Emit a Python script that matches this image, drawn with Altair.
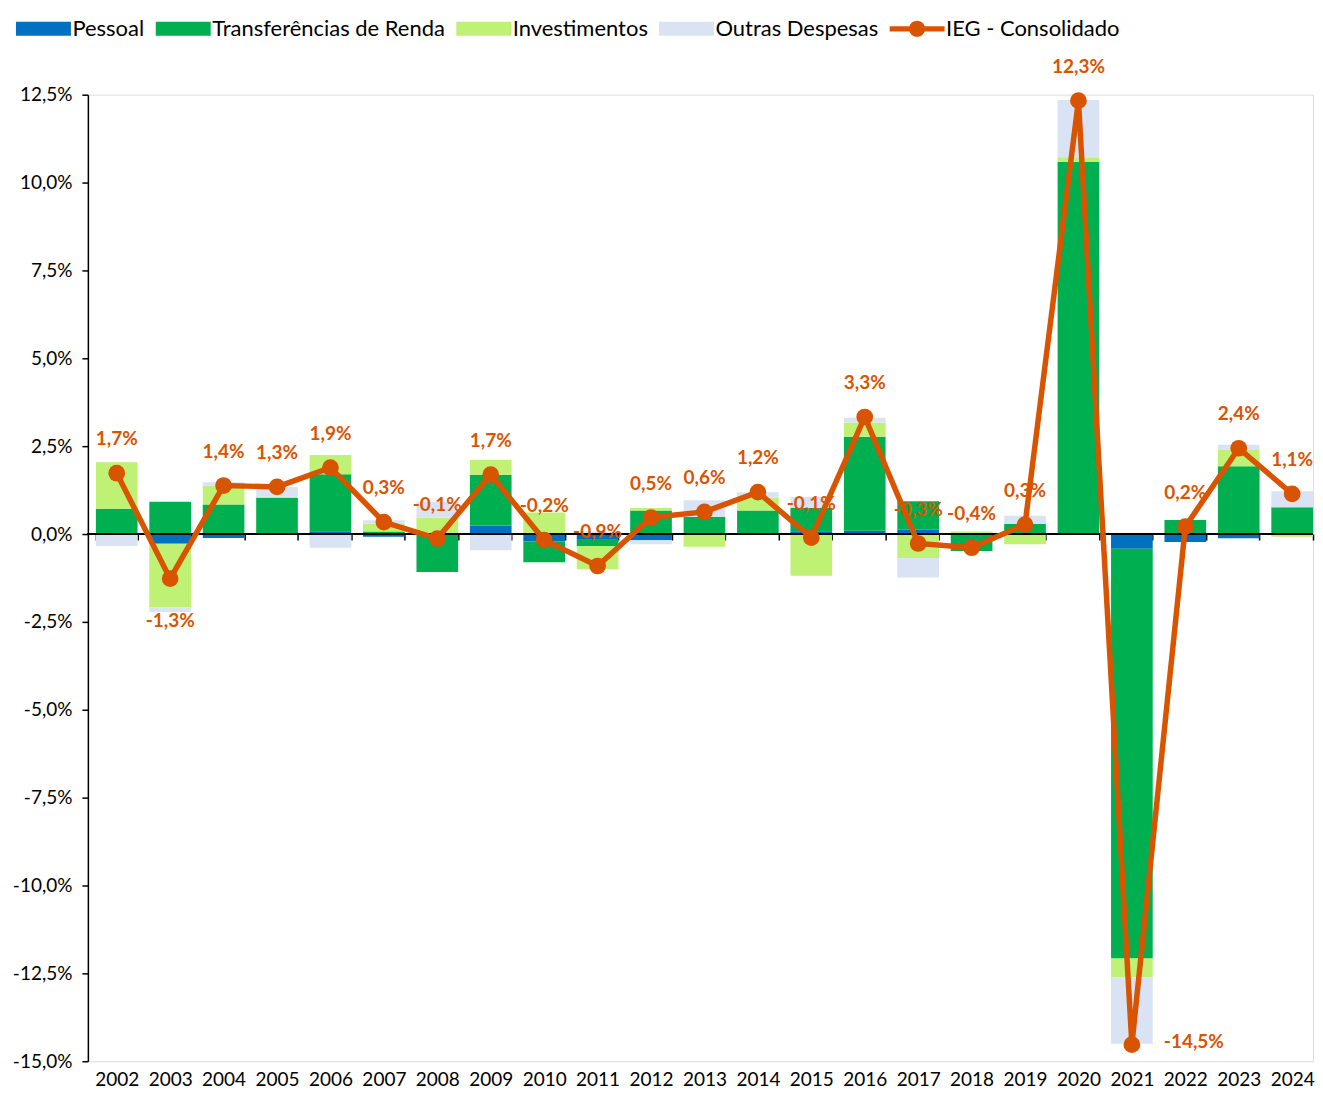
import altair as alt
import pandas as pd

anos = [str(a) for a in range(2002, 2025)]
pessoal = [0.00, -0.28, -0.11, 0.00, 0.08, -0.08, 0.00, 0.24, -0.21, -0.14, -0.18, 0.00,
           0.00, 0.08, 0.09, 0.12, 0.00, 0.00, 0.00, -0.42, -0.23, -0.12, 0.00]
transf = [0.72, 0.92, 0.84, 1.03, 1.62, 0.07, -1.08, 1.44, -0.59, -0.20, 0.67, 0.49,
          0.67, 0.66, 2.68, 0.81, -0.48, 0.29, 10.59, -11.66, 0.40, 1.93, 0.76]
invest = [1.32, -1.80, 0.53, 0.03, 0.55, 0.23, 0.46, 0.43, 0.61, -0.66, 0.07, -0.36,
          0.37, -1.19, 0.40, -0.68, 0.07, -0.29, 0.13, -0.53, 0.00, 0.46, -0.08]
outras = [-0.34, -0.14, 0.10, 0.28, -0.39, 0.09, 0.46, -0.46, 0.00, 0.07, -0.11, 0.47,
          0.15, 0.31, 0.14, -0.56, 0.00, 0.23, 1.63, -1.89, 0.00, 0.15, 0.46]
ieg = [1.73, -1.27, 1.38, 1.34, 1.89, 0.34, -0.13, 1.69, -0.17, -0.91, 0.47, 0.63,
       1.19, -0.10, 3.33, -0.27, -0.39, 0.27, 12.33, -14.53, 0.21, 2.44, 1.14]

series = ["Pessoal", "Transferências de Renda", "Investimentos", "Outras Despesas", "IEG - Consolidado"]
cores = ["#0070C0", "#00B050", "#BEF174", "#DAE3F3", "#D95400"]
y_ticks = [-15, -12.5, -10, -7.5, -5, -2.5, 0, 2.5, 5, 7.5, 10, 12.5]

rows = []
for i, a in enumerate(anos):
    for k, vals in enumerate([pessoal, transf, invest, outras]):
        rows.append({"ano": a, "serie": series[k], "ordem": k, "valor": vals[i]})
bars_df = pd.DataFrame(rows)
line_df = pd.DataFrame({
    "ano": anos,
    "serie": series[4],
    "valor": ieg,
    "rotulo": [f"{v:.1f}".replace(".", ",") + "%" for v in ieg],
})

W, H = 1227, 968
YMIN, YMAX = -15, 12.5
zero_from_bottom = H * (0 - YMIN) / (YMAX - YMIN)
ORANGE = cores[4]
FONT = "Lato"

# legend symbols: symbolSize 196 -> unit = 7px
rect_path = "M-3.93,-1L3.93,-1L3.93,1L-3.93,1Z"
line_path = ("M-3.93,-0.38L3.93,-0.38L3.93,0.38L-3.93,0.38Z "
             "M1.15,0A1.15,1.15 0 1,1 -1.15,0A1.15,1.15 0 1,1 1.15,0Z")
shapes = [rect_path, rect_path, rect_path, rect_path, line_path]

x_enc = alt.X(
    "ano:O",
    sort=anos,
    scale=alt.Scale(paddingInner=0.22, paddingOuter=0.075, align=1),
    axis=alt.Axis(
        title=None, labelAngle=0, domain=False, ticks=True, tickBand="extent",
        tickColor="black", tickSize=6, tickWidth=1.5,
        offset=-zero_from_bottom, labelPadding=zero_from_bottom + 3,
        labelFont=FONT, labelFontSize=19, labelColor="black",
    ),
)
y_scale = alt.Scale(domain=[YMIN, YMAX], nice=False, zero=False)
y_axis = alt.Axis(
    title=None, values=y_ticks, grid=False,
    labelExpr="(datum.value < 0 ? '-' : '') + replace(format(abs(datum.value), '.1f'), '.', ',') + '%'",
    domainColor="black", domainWidth=1.5, tickColor="black", tickSize=6, tickWidth=1.5,
    labelPadding=10, labelFont=FONT, labelFontSize=19, labelColor="black",
)
color_scale = alt.Scale(domain=series, range=cores)

legend_layer = alt.Chart(line_df).mark_point(filled=True, opacity=1).encode(
    x=x_enc,
    y=alt.Y("valor:Q", scale=y_scale, axis=y_axis),
    color=alt.Color("serie:N", scale=color_scale, legend=alt.Legend(
        title=None, orient="none", legendX=-76, legendY=-77, direction="horizontal",
        columns=5, symbolSize=196, symbolOffset=20.5, labelOffset=18,
        labelFont=FONT, labelFontSize=22, labelColor="black", labelLimit=0,
        columnPadding=7, padding=0, symbolStrokeWidth=0,
    )),
    shape=alt.Shape("serie:N", scale=alt.Scale(domain=series, range=shapes)),
).transform_filter("false")

bars = alt.Chart(bars_df).mark_bar().encode(
    x=x_enc,
    y=alt.Y("valor:Q", stack="zero", scale=y_scale, axis=y_axis),
    color=alt.Color("serie:N", scale=color_scale, legend=None),
    order=alt.Order("ordem:Q"),
)

zero_rule = alt.Chart(line_df).mark_rule(color="black", strokeWidth=1.5).encode(
    y=alt.datum(0)
)

line = alt.Chart(line_df).mark_line(color=ORANGE, strokeWidth=5.5).encode(
    x=x_enc, y=alt.Y("valor:Q", scale=y_scale, axis=y_axis)
)
dots = alt.Chart(line_df).mark_circle(color=ORANGE, size=280, opacity=1).encode(
    x=x_enc, y=alt.Y("valor:Q", scale=y_scale, axis=y_axis)
)

txt = dict(color=ORANGE, font=FONT, fontSize=19, fontWeight="bold", baseline="middle")
lbl_above = alt.Chart(line_df).transform_filter(
    "datum.ano != '2003' && datum.ano != '2021'"
).mark_text(dy=-34, **txt).encode(x=x_enc, y=alt.Y("valor:Q", scale=y_scale), text="rotulo:N")
lbl_below = alt.Chart(line_df).transform_filter("datum.ano == '2003'").mark_text(
    dy=42, **txt).encode(x=x_enc, y=alt.Y("valor:Q", scale=y_scale), text="rotulo:N")
lbl_right = alt.Chart(line_df).transform_filter("datum.ano == '2021'").mark_text(
    dx=32, dy=-3, align="left", **txt).encode(x=x_enc, y=alt.Y("valor:Q", scale=y_scale), text="rotulo:N")

chart = alt.layer(
    legend_layer, bars, zero_rule, line, dots, lbl_above, lbl_below, lbl_right
).properties(
    width=W, height=H, padding={"left": 4, "top": 9, "right": 0, "bottom": 0}
).configure_view(stroke=None).configure(background="white")

chart.save("out.html", embed_options={"renderer": "svg", "actions": False})
